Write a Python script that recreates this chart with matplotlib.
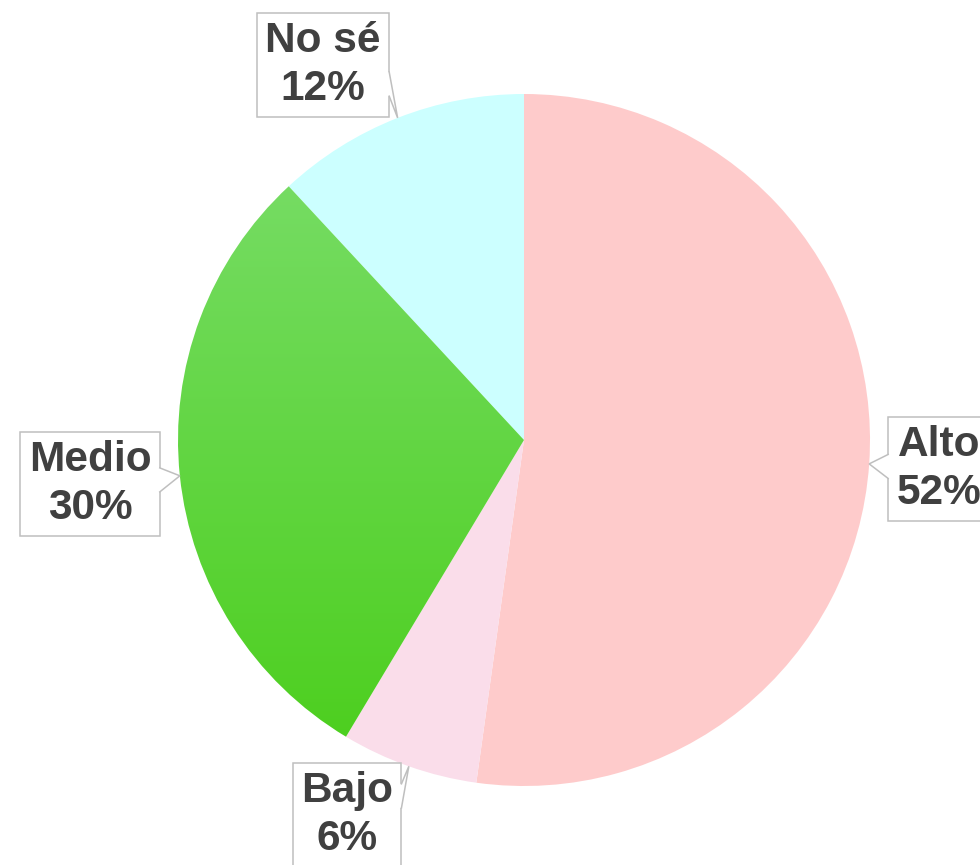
import numpy as np
import matplotlib.pyplot as plt
from matplotlib.patches import Polygon
from matplotlib.colors import LinearSegmentedColormap

# data (slices clockwise from 12 o'clock)
labels = ["Alto", "Bajo", "Medio", "No sé"]
values = [52.2, 6.4, 29.5, 11.9]
pct_labels = ["52%", "6%", "30%", "12%"]
colors = ["#FECBCB", "#FADDEA", "#62DF35", "#CCFFFF"]

W, H = 980, 865
fig = plt.figure(figsize=(9.8, 8.65), dpi=100)
ax = fig.add_axes([0, 0, 1, 1])

cx, cy, r = 524, H - 440, 346
wedges, _ = ax.pie(values, colors=colors, startangle=90, counterclock=False,
                   center=(cx, cy), radius=r, frame=True,
                   wedgeprops=dict(linewidth=0))

# vertical gradient on the green slice
green = LinearSegmentedColormap.from_list("g", ["#4ACE1A", "#7CDE6E"])
grad = np.linspace(0, 1, 256).reshape(-1, 1)
img = ax.imshow(grad, cmap=green, extent=(cx - r, cx + r, cy - r, cy + r),
                origin="lower", aspect="auto", zorder=wedges[2].get_zorder() + 0.1)
img.set_clip_path(wedges[2])
wedges[2].set_facecolor("none")

ax.set_xlim(0, W)
ax.set_ylim(0, H)
ax.set_aspect("equal")
ax.axis("off")

# label box centres (pixels from top-left)
label_pos = [(939, 469), (347, 815), (90, 484), (323, 65)]
edge_col = "#BFBFBF"
texts = []
for lab, pct, (px, py) in zip(labels, pct_labels, label_pos):
    t = ax.text(px, H - py, f"{lab}\n{pct}", ha="center", va="center",
                fontsize=30.5, fontweight="bold", family="Liberation Sans",
                color="#404040", linespacing=1.25, zorder=5,
                bbox=dict(boxstyle="square,pad=0.2", fc="white", ec=edge_col, lw=1.1))
    texts.append(t)

fig.canvas.draw()
inv = ax.transData.inverted()
for w, t in zip(wedges, texts):
    th = np.deg2rad((w.theta1 + w.theta2) / 2)
    tx, ty = cx + r * np.cos(th), cy + r * np.sin(th)
    bb = t.get_bbox_patch().get_window_extent().transformed(inv)
    x0, x1, y0, y1 = bb.x0, bb.x1, bb.y0, bb.y1
    ymid = (y0 + y1) / 2
    m = 14
    yc = (ymid + min(max(ty, y0 + m), y1 - m)) / 2
    if tx > x1:
        ex, inward = x1, -2
    else:
        ex, inward = x0, 2
    b0, b1 = yc - 12, yc + 12
    poly = Polygon([(ex + inward, b0), (ex, b0), (tx, ty), (ex, b1), (ex + inward, b1)],
                   closed=True, fc="white", ec="none", zorder=6)
    ax.add_patch(poly)
    ax.plot([ex, tx, ex], [b0, ty, b1], color=edge_col, lw=1.1, zorder=6,
            solid_joinstyle="miter")

fig.savefig("out.png", dpi=100)
